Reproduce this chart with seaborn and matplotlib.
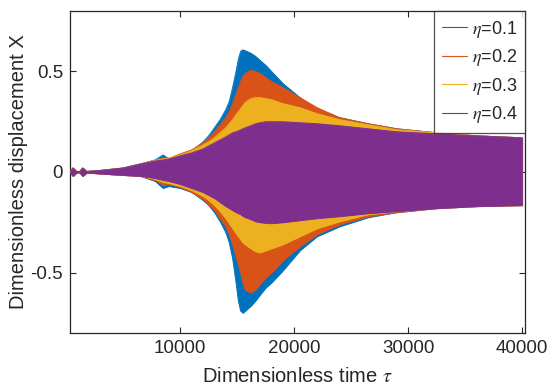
import numpy as np
import matplotlib
matplotlib.use("Agg")
import matplotlib.pyplot as plt
from matplotlib.lines import Line2D
import seaborn as sns

# time knots (dimensionless time tau)
tau = [350, 600, 900, 1200, 1450, 1800, 3000, 5000, 6500,
       7800, 8500, 9000, 10000, 11000, 12000, 12500, 13000, 13500, 14000, 14300,
       14600, 14900, 15100, 15300, 15500, 15700, 16200, 16600, 17000, 17500,
       18000, 19000, 20500, 22000, 24000, 26500, 29000, 32500, 36000, 40000]

early_up = [0.003, 0.02, 0.003, 0.003, 0.02, 0.003, 0.008, 0.02, 0.04]
early_lo = [-0.003, -0.02, -0.003, -0.003, -0.02, -0.003, -0.008, -0.015, -0.02]

# upper / lower envelopes of X for each eta
up_01 = early_up + [0.06, 0.085, 0.065, 0.085, 0.10, 0.15, 0.18, 0.22, 0.26, 0.31, 0.35,
                    0.42, 0.50, 0.56, 0.60, 0.607, 0.603, 0.59, 0.575, 0.555, 0.53,
                    0.50, 0.44, 0.37, 0.31, 0.27, 0.24, 0.215, 0.195, 0.18, 0.17]
lo_01 = early_lo + [-0.045, -0.08, -0.07, -0.08, -0.10, -0.14, -0.165, -0.20, -0.245, -0.30, -0.35,
                    -0.43, -0.55, -0.64, -0.69, -0.70, -0.69, -0.665, -0.64, -0.61, -0.575,
                    -0.55, -0.49, -0.39, -0.32, -0.27, -0.225, -0.20, -0.18, -0.17, -0.165]
up_02 = early_up + [0.058, 0.07, 0.068, 0.09, 0.11, 0.145, 0.17, 0.20, 0.235, 0.27, 0.30,
                    0.34, 0.39, 0.42, 0.45, 0.475, 0.49, 0.505, 0.50, 0.49, 0.47,
                    0.45, 0.42, 0.37, 0.32, 0.27, 0.24, 0.215, 0.195, 0.18, 0.17]
lo_02 = early_lo + [-0.04, -0.065, -0.06, -0.075, -0.10, -0.135, -0.16, -0.19, -0.23, -0.27, -0.31,
                    -0.36, -0.42, -0.46, -0.50, -0.55, -0.585, -0.60, -0.585, -0.555, -0.525,
                    -0.50, -0.44, -0.37, -0.31, -0.26, -0.22, -0.20, -0.18, -0.17, -0.165]
up_03 = early_up + [0.058, 0.065, 0.07, 0.085, 0.105, 0.135, 0.15, 0.17, 0.195, 0.22, 0.24,
                    0.26, 0.285, 0.30, 0.315, 0.33, 0.345, 0.365, 0.37, 0.37, 0.365,
                    0.36, 0.34, 0.32, 0.29, 0.26, 0.235, 0.21, 0.195, 0.18, 0.17]
lo_03 = early_lo + [-0.035, -0.05, -0.055, -0.07, -0.09, -0.12, -0.14, -0.165, -0.195, -0.23, -0.255,
                    -0.28, -0.305, -0.32, -0.335, -0.35, -0.36, -0.38, -0.395, -0.40, -0.39,
                    -0.38, -0.36, -0.32, -0.28, -0.245, -0.21, -0.195, -0.18, -0.17, -0.165]
up_04 = early_up + [0.055, 0.06, 0.065, 0.08, 0.095, 0.115, 0.13, 0.145, 0.16, 0.175, 0.185,
                    0.195, 0.20, 0.205, 0.21, 0.215, 0.22, 0.23, 0.24, 0.245, 0.25,
                    0.25, 0.25, 0.245, 0.24, 0.23, 0.215, 0.20, 0.19, 0.18, 0.17]
lo_04 = early_lo + [-0.03, -0.04, -0.045, -0.06, -0.08, -0.10, -0.115, -0.13, -0.15, -0.17, -0.18,
                    -0.19, -0.20, -0.205, -0.21, -0.218, -0.225, -0.235, -0.245, -0.25, -0.253,
                    -0.255, -0.25, -0.24, -0.23, -0.22, -0.205, -0.195, -0.18, -0.17, -0.165]

etas = ["0.1", "0.2", "0.3", "0.4"]
uppers = [up_01, up_02, up_03, up_04]
lowers = [lo_01, lo_02, lo_03, lo_04]
colors = ["#0072BD", "#D95319", "#EDB120", "#7E2F8E"]

sns.set_style("ticks")
plt.rcParams["font.family"] = ["Liberation Sans", "DejaVu Sans"]
plt.rcParams["axes.unicode_minus"] = False
plt.rcParams["mathtext.fontset"] = "stix"

fig = plt.figure(figsize=(5.48, 3.92), dpi=100)
ax = fig.add_axes([0.128, 0.1505, 0.83, 0.8215])

for i in range(4):
    ax.fill_between(tau, lowers[i], uppers[i], color=colors[i], linewidth=0.6,
                    edgecolor=colors[i], zorder=2 + i)
    sns.lineplot(x=tau, y=uppers[i], color=colors[i], linewidth=0.6, ax=ax, zorder=2 + i)
    sns.lineplot(x=tau, y=lowers[i], color=colors[i], linewidth=0.6, ax=ax, zorder=2 + i)

ax.set_xlim(350, 40250)
ax.set_ylim(-0.8, 0.8)
ax.set_xticks([10000, 20000, 30000, 40000])
ax.set_yticks([-0.5, 0, 0.5])
ax.set_yticklabels(["-0.5", "0", "0.5"])
ax.tick_params(direction="in", top=True, right=True, labelsize=13.5, length=4, width=0.8,
               colors="#262626", pad=5)
for s in ax.spines.values():
    s.set_linewidth(0.9)
    s.set_color("#262626")

ax.set_xlabel(r"Dimensionless time $\tau$", fontsize=14.5, color="#262626", labelpad=7)
ax.set_ylabel("Dimensionless displacement X", fontsize=14.5, color="#262626", labelpad=2)

handles = [Line2D([], [], color=c, linewidth=0.8) for c in colors]
labels = [r"$\eta$=" + e for e in etas]
leg = ax.legend(handles, labels, loc="upper right", fontsize=13, frameon=True, fancybox=False,
                edgecolor="#262626", borderaxespad=0, handlelength=1.4,
                handletextpad=0.25, labelspacing=0.42, borderpad=0.42)
leg.get_frame().set_linewidth(0.9)
leg.set_zorder(10)

fig.savefig("out.png", dpi=100)
